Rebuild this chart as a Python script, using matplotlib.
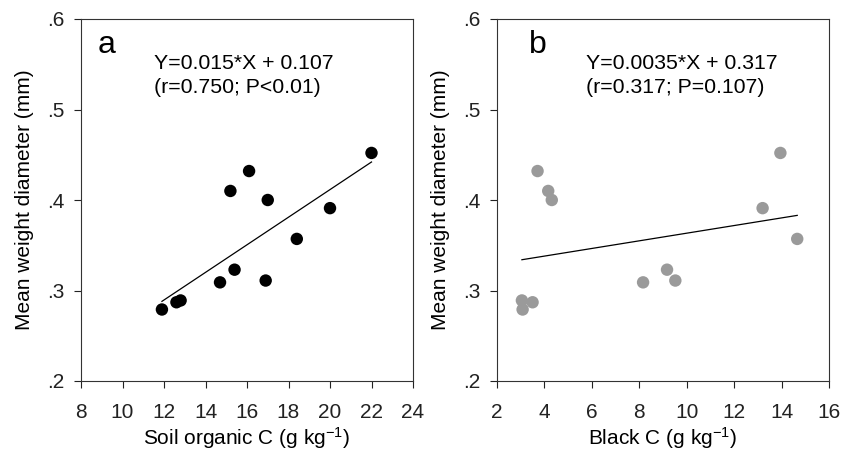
import numpy as np
import matplotlib
matplotlib.use('Agg')
import matplotlib.pyplot as plt
from matplotlib.ticker import FuncFormatter

plt.rcParams['font.family'] = ['Liberation Sans', 'DejaVu Sans']
plt.rcParams['mathtext.fontset'] = 'custom'
plt.rcParams['mathtext.rm'] = 'Liberation Sans'
plt.rcParams['mathtext.default'] = 'regular'

# Dados
# Painel a: carbono orgânico do solo x diâmetro médio ponderado
soc = [11.9, 12.6, 12.8, 14.7, 15.4, 15.2, 16.1, 17.0, 16.9, 18.4, 20.0, 22.0]
mwd_a = [0.279, 0.287, 0.289, 0.309, 0.323, 0.410, 0.432, 0.400, 0.311, 0.357, 0.391, 0.452]
fit_a_x = [11.9, 22.0]
fit_a_y = [0.288, 0.442]

# Painel b: carbono negro x diâmetro médio ponderado
black_c = [3.08, 3.05, 3.5, 8.16, 9.17, 9.52, 3.71, 4.16, 4.31, 13.2, 13.95, 14.66]
mwd_b = [0.279, 0.289, 0.287, 0.309, 0.323, 0.311, 0.432, 0.410, 0.400, 0.391, 0.452, 0.357]
fit_b_x = [3.05, 14.66]
fit_b_y = [0.334, 0.383]

xticks_a = [8, 10, 12, 14, 16, 18, 20, 22, 24]
xticks_b = [2, 4, 6, 8, 10, 12, 14, 16]
yticks = [0.2, 0.3, 0.4, 0.5, 0.6]

fig = plt.figure(figsize=(8.41, 4.5), dpi=100)
ax_a = fig.add_axes([81/841, 69/450, 332/841, 362/450])
ax_b = fig.add_axes([497/841, 69/450, 332/841, 362/450])

fmt_y = FuncFormatter(lambda v, p: f'{v:.1f}'.lstrip('0'))

paineis = [
    (ax_a, soc, mwd_a, fit_a_x, fit_a_y, 'black', xticks_a, 'Soil organic C (g kg$^{-1}$)',
     'a', 0.051, 'Y=0.015*X + 0.107', '(r=0.750; P<0.01)', 0.22),
    (ax_b, black_c, mwd_b, fit_b_x, fit_b_y, '#9a9a9a', xticks_b, 'Black C (g kg$^{-1}$)',
     'b', 0.097, 'Y=0.0035*X + 0.317', '(r=0.317; P=0.107)', 0.267),
]

for ax, x, y, fx, fy, cor, xt, xlab, letra, lx, eq1, eq2, ex in paineis:
    ax.scatter(x, y, s=80, color=cor, edgecolors='none', zorder=3)
    ax.plot(fx, fy, color='black', linewidth=0.9, zorder=2)
    ax.set_xlim(xt[0], xt[-1])
    ax.set_ylim(0.2, 0.6)
    ax.set_xticks(xt)
    ax.set_yticks(yticks)
    ax.yaxis.set_major_formatter(fmt_y)
    ax.tick_params(direction='out', length=5, width=0.8, labelsize=15, colors='#222222')
    ax.tick_params(axis='x', pad=11)
    ax.tick_params(axis='y', pad=7)
    for s in ax.spines.values():
        s.set_linewidth(0.8)
        s.set_color('#333333')
    ax.set_xlabel(xlab, fontsize=15, labelpad=2)
    ax.set_ylabel('Mean weight diameter (mm)', fontsize=15, labelpad=9)
    ax.text(lx, 0.906, letra, transform=ax.transAxes, fontsize=23, ha='left', va='baseline')
    ax.text(ex, 0.862, eq1, transform=ax.transAxes, fontsize=15.3, ha='left', va='baseline')
    ax.text(ex, 0.796, eq2, transform=ax.transAxes, fontsize=15.3, ha='left', va='baseline')

plt.savefig('out.png', dpi=100)
